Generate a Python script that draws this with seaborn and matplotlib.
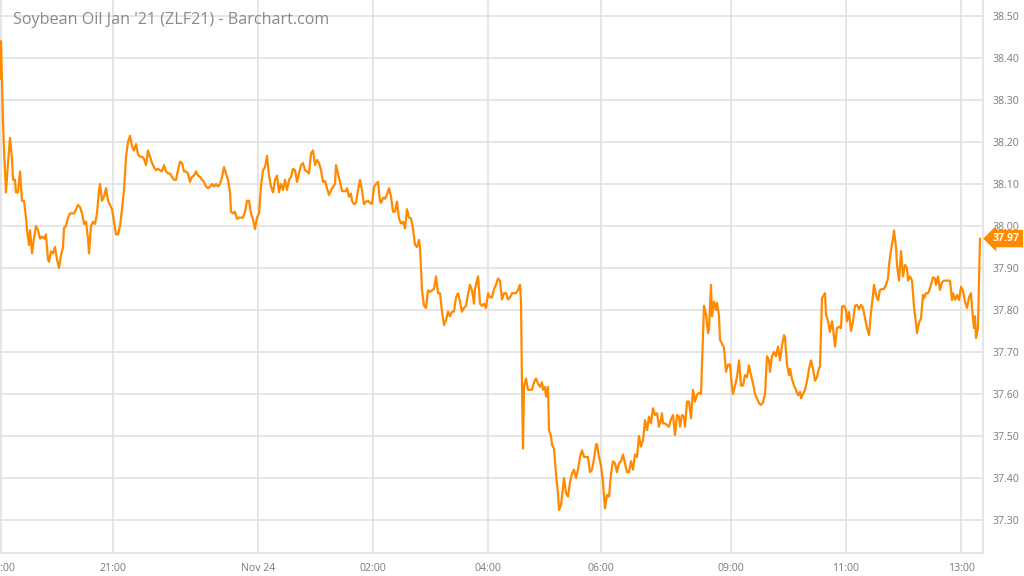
import matplotlib
matplotlib.use("Agg")
import matplotlib.pyplot as plt
import matplotlib.transforms as mtransforms
import seaborn as sns
import pandas as pd

title = "Soybean Oil Jan '21 (ZLF21) - Barchart.com"

# trading-minute index of each sample (session time, gaps removed)
minute = [
    0, 1, 3, 4, 6, 8, 10, 12, 13, 15, 16, 18, 20, 22, 24, 26, 27, 29, 30, 32, 34, 36, 38, 40, 42, 44, 46, 48, 49, 51,
    53, 55, 57, 59, 61, 63, 64, 66, 68, 70, 72, 74, 76, 78, 80, 82, 84, 86, 88, 89, 91, 93, 95, 97, 99, 100, 102, 104,
    106, 108, 110, 112, 114, 116, 118, 120, 122, 124, 126, 128, 130, 132, 134, 136, 138, 140, 142, 144, 146, 148, 150,
    152, 154, 156, 158, 160, 162, 164, 166, 168, 170, 172, 174, 176, 178, 180, 182, 184, 186, 188, 190, 192, 194, 196,
    198, 200, 202, 204, 206, 208, 210, 212, 214, 216, 218, 220, 222, 224, 226, 228, 230, 231, 233, 235, 237, 239, 241,
    243, 245, 247, 249, 251, 253, 255, 257, 259, 261, 263, 265, 267, 269, 271, 273, 275, 277, 279, 281, 283, 285, 287,
    289, 291, 293, 295, 297, 299, 301, 303, 305, 307, 309, 311, 313, 315, 317, 319, 321, 323, 325, 327, 329, 331, 333,
    335, 336, 338, 340, 342, 344, 346, 347, 349, 351, 352, 354, 356, 358, 360, 362, 364, 366, 368, 370, 372, 374, 376,
    378, 380, 381, 383, 385, 387, 389, 391, 393, 395, 397, 399, 401, 403, 405, 407, 409, 411, 413, 415, 417, 419, 420,
    421, 422, 424, 426, 428, 430, 432, 434, 436, 438, 440, 442, 444, 446, 448, 450, 452, 454, 456, 458, 460, 462, 464,
    466, 468, 470, 472, 474, 475, 477, 478, 480, 482, 484, 486, 488, 490, 492, 494, 496, 498, 500, 502, 504, 506, 508,
    510, 512, 514, 516, 518, 520, 521, 522, 523, 524, 526, 528, 530, 532, 534, 536, 538, 540, 542, 543, 545, 546, 548,
    549, 551, 552, 554, 556, 558, 559, 561, 562, 564, 566, 568, 570, 572, 574, 576, 578, 580, 582, 584, 586, 588, 590,
    592, 594, 596, 597, 599, 601, 603, 604, 605, 607, 609, 611, 613, 615, 617, 619, 621, 623, 625, 627, 629, 631, 633,
    635, 637, 639, 641, 643, 645, 647, 649, 651, 653, 655, 657, 659, 661, 662, 663, 665, 667, 669, 671, 673, 675, 677,
    679, 680, 682, 684, 685, 687, 689, 691, 693, 695, 697, 699, 701, 703, 704, 706, 708, 709, 711, 712, 714, 716, 717,
    719, 720, 722, 724, 726, 728, 730, 732, 733, 735, 737, 739, 741, 743, 745, 747, 749, 751, 753, 755, 757, 759, 761,
    763, 765, 767, 769, 770, 772, 774, 776, 778, 780, 782, 784, 785, 787, 789, 790, 792, 794, 796, 798, 800, 801, 803,
    805, 807, 809, 811, 813, 815, 817, 819, 820, 822, 823, 825, 826, 828, 830, 832, 833, 835, 837, 839, 841, 842, 844,
    846, 847, 849, 851, 853, 855, 857, 859, 861, 863, 865, 867, 869, 871, 873, 874, 876, 878, 880, 882, 884, 886, 888,
    889, 891, 893, 894, 896, 897, 899, 900, 901, 903, 905, 907, 908, 910, 912, 914, 916, 917, 919, 921, 923, 924, 926,
    928, 929, 931, 933, 935, 936, 938, 940, 942, 944, 946, 948, 950, 952, 953, 955, 957, 959, 961, 963, 965, 967, 969,
    971, 972, 974, 975, 976, 978, 979, 980,
]

price = [
    38.35, 38.44, 38.25, 38.18, 38.08, 38.15, 38.21, 38.16, 38.11, 38.11, 38.08, 38.08, 38.13, 38.06, 38.06, 38.02,
    37.99, 37.955, 37.99, 37.935, 37.97, 38.00, 37.99, 37.97, 37.975, 37.97, 37.98, 37.92, 37.915, 37.94, 37.935, 37.95,
    37.92, 37.90, 37.93, 37.95, 37.995, 38.00, 38.02, 38.03, 38.03, 38.03, 38.04, 38.05, 38.045, 38.03, 38.005, 38.01,
    37.97, 37.935, 38.00, 38.01, 38.005, 38.03, 38.085, 38.10, 38.06, 38.07, 38.09, 38.06, 38.05, 38.04, 38.01, 37.98,
    37.98, 38.00, 38.04, 38.085, 38.165, 38.20, 38.215, 38.19, 38.18, 38.195, 38.17, 38.165, 38.165, 38.16, 38.145,
    38.18, 38.165, 38.15, 38.14, 38.133, 38.136, 38.133, 38.13, 38.145, 38.13, 38.125, 38.125, 38.117, 38.11, 38.11,
    38.133, 38.153, 38.15, 38.13, 38.13, 38.125, 38.105, 38.117, 38.12, 38.13, 38.12, 38.117, 38.11, 38.105, 38.094,
    38.09, 38.094, 38.10, 38.094, 38.10, 38.094, 38.10, 38.117, 38.14, 38.125, 38.11, 38.08, 38.034, 38.03, 38.034,
    38.017, 38.02, 38.02, 38.02, 38.034, 38.06, 38.06, 38.03, 38.016, 37.993, 38.02, 38.03, 38.094, 38.133, 38.14,
    38.167, 38.12, 38.094, 38.08, 38.11, 38.12, 38.08, 38.10, 38.086, 38.11, 38.086, 38.11, 38.117, 38.136, 38.133,
    38.105, 38.125, 38.145, 38.15, 38.133, 38.13, 38.125, 38.173, 38.18, 38.145, 38.157, 38.15, 38.133, 38.105, 38.107,
    38.09, 38.074, 38.085, 38.093, 38.10, 38.145, 38.125, 38.105, 38.083, 38.083, 38.083, 38.09, 38.07, 38.077, 38.06,
    38.052, 38.055, 38.085, 38.11, 38.085, 38.052, 38.058, 38.06, 38.055, 38.053, 38.093, 38.10, 38.105, 38.06, 38.055,
    38.067, 38.065, 38.075, 38.09, 38.07, 38.034, 38.034, 38.058, 38.018, 38.006, 38.01, 37.994, 38.04, 38.02, 38.018,
    37.994, 37.955, 37.95, 37.967, 37.95, 37.90, 37.847, 37.81, 37.805, 37.847, 37.843, 37.847, 37.85, 37.88, 37.84,
    37.84, 37.796, 37.764, 37.776, 37.796, 37.785, 37.796, 37.796, 37.83, 37.84, 37.82, 37.796, 37.805, 37.81, 37.837,
    37.86, 37.847, 37.815, 37.85, 37.87, 37.88, 37.815, 37.81, 37.815, 37.805, 37.84, 37.83, 37.83, 37.85, 37.86,
    37.875, 37.87, 37.825, 37.84, 37.84, 37.825, 37.83, 37.84, 37.84, 37.84, 37.847, 37.86, 37.82, 37.617, 37.47,
    37.617, 37.637, 37.61, 37.61, 37.61, 37.628, 37.637, 37.625, 37.617, 37.628, 37.61, 37.617, 37.594, 37.617, 37.514,
    37.50, 37.479, 37.47, 37.41, 37.364, 37.324, 37.336, 37.356, 37.40, 37.364, 37.356, 37.39, 37.41, 37.42, 37.40,
    37.42, 37.45, 37.466, 37.45, 37.45, 37.45, 37.414, 37.42, 37.445, 37.48, 37.48, 37.45, 37.43, 37.39, 37.356,
    37.328, 37.36, 37.356, 37.41, 37.44, 37.435, 37.414, 37.435, 37.44, 37.456, 37.435, 37.414, 37.414, 37.44, 37.42,
    37.456, 37.45, 37.50, 37.475, 37.49, 37.538, 37.514, 37.546, 37.53, 37.566, 37.55, 37.554, 37.522, 37.54, 37.554,
    37.53, 37.53, 37.526, 37.522, 37.54, 37.55, 37.502, 37.55, 37.546, 37.522, 37.55, 37.546, 37.522, 37.582, 37.582,
    37.542, 37.61, 37.582, 37.598, 37.603, 37.60, 37.745, 37.81, 37.79, 37.745, 37.754, 37.86, 37.785, 37.82, 37.80,
    37.817, 37.786, 37.729, 37.72, 37.71, 37.653, 37.67, 37.67, 37.617, 37.60, 37.62, 37.64, 37.68, 37.62, 37.62,
    37.645, 37.64, 37.668, 37.645, 37.625, 37.60, 37.59, 37.578, 37.574, 37.58, 37.60, 37.69, 37.68, 37.653, 37.69,
    37.70, 37.69, 37.713, 37.68, 37.715, 37.74, 37.735, 37.67, 37.645, 37.66, 37.635, 37.62, 37.61, 37.597, 37.605,
    37.59, 37.60, 37.61, 37.63, 37.66, 37.68, 37.66, 37.632, 37.64, 37.662, 37.665, 37.828, 37.832, 37.84, 37.79,
    37.773, 37.748, 37.773, 37.757, 37.713, 37.757, 37.76, 37.757, 37.808, 37.81, 37.80, 37.773, 37.795, 37.75, 37.773,
    37.81, 37.812, 37.802, 37.812, 37.805, 37.78, 37.757, 37.74, 37.795, 37.836, 37.86, 37.836, 37.823, 37.848, 37.85,
    37.85, 37.86, 37.875, 37.907, 37.943, 37.97, 37.989, 37.95, 37.907, 37.87, 37.905, 37.94, 37.88, 37.907, 37.90,
    37.87, 37.88, 37.87, 37.808, 37.768, 37.745, 37.77, 37.78, 37.836, 37.828, 37.84, 37.84, 37.845, 37.86, 37.878,
    37.875, 37.86, 37.88, 37.848, 37.866, 37.87, 37.87, 37.87, 37.87, 37.824, 37.84, 37.824, 37.836, 37.824, 37.855,
    37.845, 37.82, 37.805, 37.83, 37.84, 37.805, 37.757, 37.785, 37.733, 37.757, 37.87, 37.97,
]

# x-axis labels and the trading minute where each falls
tick_labels = ["19:00", "21:00", "Nov 24", "02:00", "04:00", "06:00", "09:00", "11:00", "13:00"]
tick_minutes = [1, 113, 258, 373, 488, 601, 731, 846, 961]
y_ticks = [37.30, 37.40, 37.50, 37.60, 37.70, 37.80, 37.90, 38.00, 38.10, 38.20, 38.30, 38.40, 38.50]

df = pd.DataFrame({"minute": minute, "price": price})

sns.set_style("white")
plt.rcParams["font.family"] = ["Open Sans", "DejaVu Sans"]

ORANGE = "#ff8a00"
GRID = "#e2e2e2"
TXT = "#7a7a7a"

W, H = 1024, 576
fig = plt.figure(figsize=(W / 100, H / 100), dpi=100)
ax = fig.add_axes([0, 23 / H, 983 / W, 553 / H])

sns.lineplot(data=df, x="minute", y="price", ax=ax, color=ORANGE, linewidth=1.6, estimator=None, sort=False)

ax.set_xlim(0, 983)
ax.set_ylim(38.50 - (553 - 16) / 420, 38.50 + 16 / 420)

ax.set_yticks(y_ticks)
ax.set_yticklabels([f"{v:.2f}" for v in y_ticks])
ax.yaxis.tick_right()
ax.set_xticks(tick_minutes)
ax.set_xticklabels(tick_labels)
ax.set_xlabel("")
ax.set_ylabel("")

ax.grid(True, color=GRID, linewidth=1.2)
ax.set_axisbelow(True)
ax.tick_params(axis="y", length=0, pad=7, labelsize=7.6, labelcolor=TXT)
ax.tick_params(axis="x", length=3, width=1, color=GRID, pad=4, labelsize=7.6, labelcolor=TXT)

for side in ("left", "top"):
    ax.spines[side].set_visible(False)
for side in ("right", "bottom"):
    ax.spines[side].set_color(GRID)
    ax.spines[side].set_linewidth(1.2)

fig.text(13 / W, 1 - 20 / H, title, fontsize=11.6, color="#8a8a8a", va="center", ha="left")

last = price[-1]
trans = mtransforms.blended_transform_factory(ax.transAxes, ax.transData)
ax.text(1.010, last, f"{last:.2f}", transform=trans, ha="left", va="center",
        fontsize=7.6, fontweight="bold", color="white", clip_on=False,
        bbox=dict(boxstyle="larrow,pad=0.3", fc=ORANGE, ec="none"))

fig.savefig("out.png", dpi=100)
